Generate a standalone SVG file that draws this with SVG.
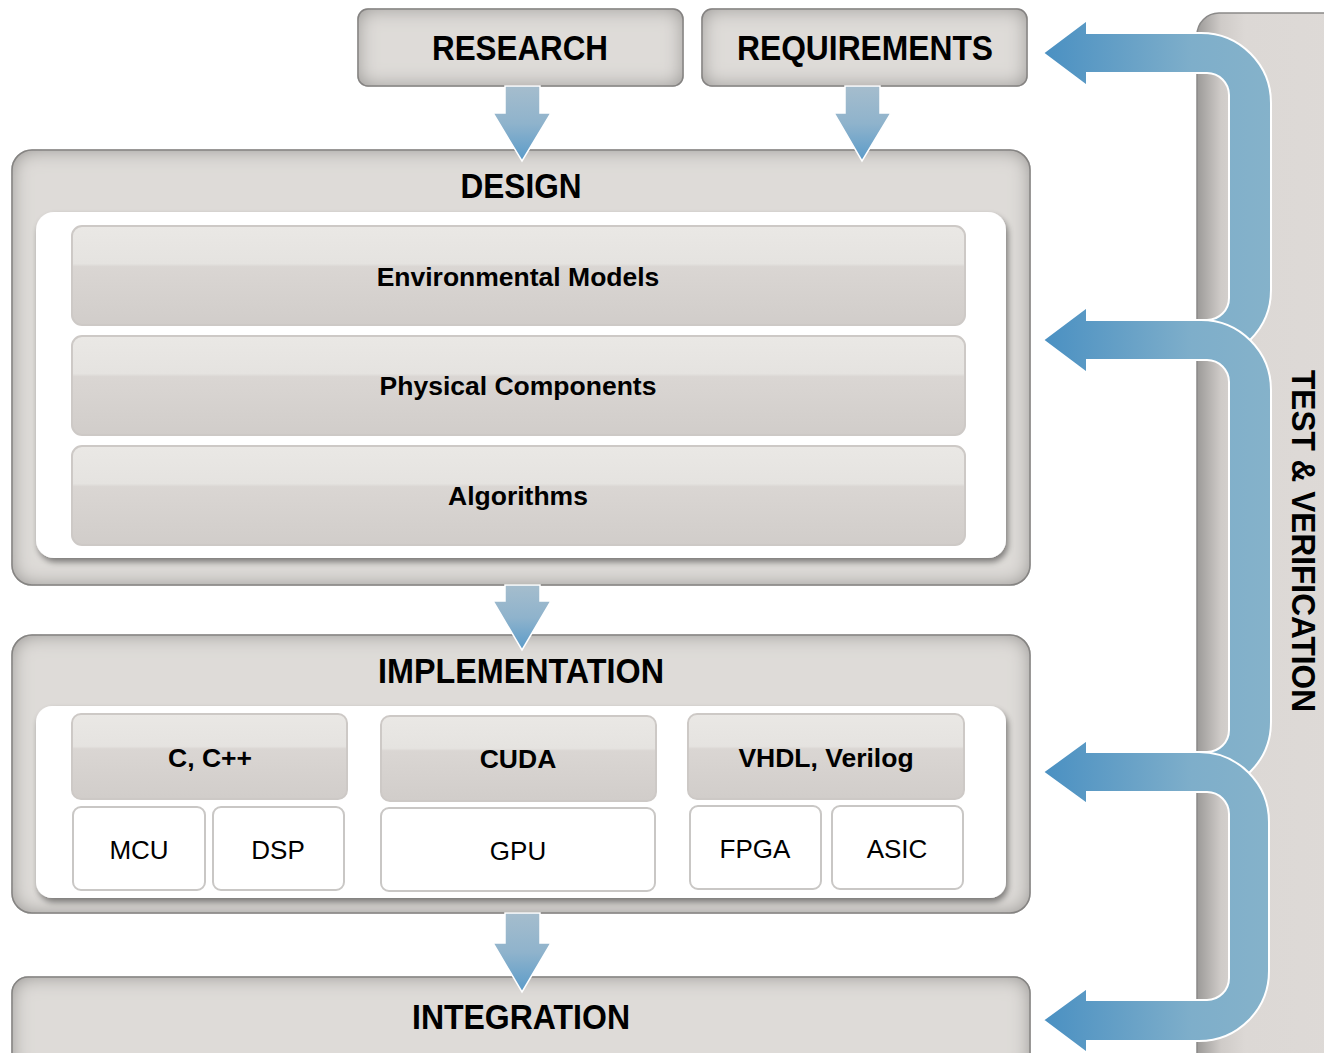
<svg xmlns="http://www.w3.org/2000/svg" width="1324" height="1053" viewBox="0 0 1324 1053">
<defs>
<filter id="inset" x="-5%" y="-20%" width="110%" height="140%">
<feFlood flood-color="#82807e"/>
<feComposite in2="SourceAlpha" operator="out"/>
<feGaussianBlur stdDeviation="10"/>
<feComposite in2="SourceAlpha" operator="in"/>
<feMerge><feMergeNode in="SourceGraphic"/><feMergeNode/></feMerge>
</filter>
<filter id="drop" x="-5%" y="-10%" width="110%" height="125%">
<feGaussianBlur in="SourceAlpha" stdDeviation="3"/>
<feOffset dx="2" dy="4"/>
<feComponentTransfer><feFuncA type="linear" slope="0.45"/></feComponentTransfer>
<feMerge><feMergeNode/><feMergeNode in="SourceGraphic"/></feMerge>
</filter>
<linearGradient id="bar" x1="0" y1="0" x2="0" y2="1">
<stop offset="0" stop-color="#eae8e5"/>
<stop offset="0.38" stop-color="#e5e3e0"/>
<stop offset="0.41" stop-color="#dad6d3"/>
<stop offset="1" stop-color="#d1cdca"/>
</linearGradient>
<linearGradient id="down" x1="0" y1="0" x2="0" y2="1">
<stop offset="0" stop-color="#a5bdcd"/>
<stop offset="0.5" stop-color="#8fb3cc"/>
<stop offset="1" stop-color="#5a9bc9"/>
</linearGradient>
<linearGradient id="loop" gradientUnits="userSpaceOnUse" x1="1043" y1="0" x2="1271" y2="0">
<stop offset="0" stop-color="#4a90c2"/>
<stop offset="0.65" stop-color="#7eaeca"/>
<stop offset="1" stop-color="#85b2ca"/>
</linearGradient>
<linearGradient id="side" x1="0" y1="0" x2="1" y2="0">
<stop offset="0" stop-color="#9c9a98"/>
<stop offset="0.15" stop-color="#cfcbc8"/>
<stop offset="0.3" stop-color="#dcd8d5"/>
<stop offset="1" stop-color="#dedad7"/>
</linearGradient>
</defs>
<style>
.box{fill:#dedbd8;stroke:#8a8988;stroke-width:1.5;filter:url(#inset)}
.panel{fill:#fff;filter:url(#drop)}
.bar{fill:url(#bar);stroke:#cdc9c6;stroke-width:2}
.cell{fill:#fff;stroke:#c9c7c5;stroke-width:2}
.title{font-family:"Liberation Sans",Arial,sans-serif;font-weight:bold;font-size:35px;fill:#000;text-anchor:middle}
.sub{font-family:"Liberation Sans",Arial,sans-serif;font-weight:bold;font-size:26.5px;fill:#000;text-anchor:middle}
.reg{font-family:"Liberation Sans",Arial,sans-serif;font-size:26px;fill:#000;text-anchor:middle}
.darr{fill:url(#down);stroke:#fff;stroke-width:1.5}
.larr{fill:url(#loop);stroke:#fff;stroke-width:2}
</style>

<g id="test-verification">
<rect x="1197" y="13" width="160" height="1080" rx="22" fill="url(#side)" stroke="#8a8988" stroke-width="1.5"/>
<text class="title" style="font-size:34px" transform="translate(1292 541) rotate(90)" textLength="342" lengthAdjust="spacingAndGlyphs">TEST &amp; VERIFICATION</text>
</g>

<g id="research">
<rect class="box" x="358" y="9" width="325" height="77" rx="10"/>
<text class="title" x="520" y="60" textLength="176" lengthAdjust="spacingAndGlyphs">RESEARCH</text>
</g>
<g id="requirements">
<rect class="box" x="702" y="9" width="325" height="77" rx="10"/>
<text class="title" x="865" y="60" textLength="256" lengthAdjust="spacingAndGlyphs">REQUIREMENTS</text>
</g>

<g id="design">
<rect class="box" x="12" y="150" width="1018" height="435" rx="20"/>
<text class="title" x="521" y="198" textLength="121" lengthAdjust="spacingAndGlyphs">DESIGN</text>
<rect class="panel" x="36" y="212" width="970" height="346" rx="18"/>
<g id="env-models"><rect class="bar" x="72" y="226" width="893" height="99" rx="10"/><text class="sub" x="518" y="286">Environmental Models</text></g>
<g id="physical-components"><rect class="bar" x="72" y="336" width="893" height="99" rx="10"/><text class="sub" x="518" y="395">Physical Components</text></g>
<g id="algorithms"><rect class="bar" x="72" y="446" width="893" height="99" rx="10"/><text class="sub" x="518" y="505">Algorithms</text></g>
</g>

<g id="implementation">
<rect class="box" x="12" y="635" width="1018" height="278" rx="20"/>
<text class="title" x="521" y="683" textLength="286" lengthAdjust="spacingAndGlyphs">IMPLEMENTATION</text>
<rect class="panel" x="36" y="706" width="970" height="192" rx="16"/>
<g id="c-cpp"><rect class="bar" x="72" y="714" width="275" height="85" rx="9"/><text class="sub" x="210" y="767">C, C++</text></g>
<g id="cuda"><rect class="bar" x="381" y="716" width="275" height="85" rx="9"/><text class="sub" x="518" y="768">CUDA</text></g>
<g id="vhdl"><rect class="bar" x="688" y="714" width="276" height="85" rx="9"/><text class="sub" x="826" y="767">VHDL, Verilog</text></g>
<g id="mcu"><rect class="cell" x="73" y="807" width="132" height="83" rx="8"/><text class="reg" x="139" y="859">MCU</text></g>
<g id="dsp"><rect class="cell" x="213" y="807" width="131" height="83" rx="8"/><text class="reg" x="278" y="859">DSP</text></g>
<g id="gpu"><rect class="cell" x="381" y="808" width="274" height="83" rx="8"/><text class="reg" x="518" y="860">GPU</text></g>
<g id="fpga"><rect class="cell" x="690" y="806" width="131" height="83" rx="8"/><text class="reg" x="755" y="858">FPGA</text></g>
<g id="asic"><rect class="cell" x="832" y="806" width="131" height="83" rx="8"/><text class="reg" x="897" y="858">ASIC</text></g>
</g>

<g id="integration">
<rect class="box" x="12" y="977" width="1018" height="100" rx="16"/>
<text class="title" x="521" y="1029" textLength="218" lengthAdjust="spacingAndGlyphs">INTEGRATION</text>
</g>

<g id="connectors">
<path class="darr" d="M505 86 L540 86 L540 113 L551 113 L522 161 L493 113 L505 113 Z"/>
<path class="darr" d="M845 86 L880 86 L880 113 L891 113 L862 161 L834 113 L845 113 Z"/>
<path class="darr" d="M505 585 L540 585 L540 601 L551 601 L522 650 L493 601 L505 601 Z"/>
<path class="darr" d="M505 913 L540 913 L540 943 L551 943 L522 992 L493 943 L505 943 Z"/>
<path class="larr" d="M1043 53 L1087 20 L1087 33 L1201 33 A70 70 0 0 1 1271 103 L1271 290 A70 70 0 0 1 1201 360 L1087 360 L1087 373 L1043 340 L1087 307 L1087 320 L1207 320 A22 22 0 0 0 1229 298 L1229 95 A22 22 0 0 0 1207 73 L1087 73 L1087 86 Z"/>
<path class="larr" d="M1043 340 L1087 307 L1087 320 L1201 320 A70 70 0 0 1 1271 390 L1271 722 A70 70 0 0 1 1201 792 L1087 792 L1087 804 L1043 772 L1087 740 L1087 752 L1207 752 A22 22 0 0 0 1229 730 L1229 382 A22 22 0 0 0 1207 360 L1087 360 L1087 373 Z"/>
<path class="larr" d="M1043 772 L1087 740 L1087 752 L1199 752 A70 70 0 0 1 1269 822 L1269 971 A70 70 0 0 1 1199 1041 L1087 1041 L1087 1053 L1043 1020 L1087 988 L1087 1000 L1207 1000 A22 22 0 0 0 1229 978 L1229 814 A22 22 0 0 0 1207 792 L1087 792 L1087 804 Z"/>
</g>
</svg>
